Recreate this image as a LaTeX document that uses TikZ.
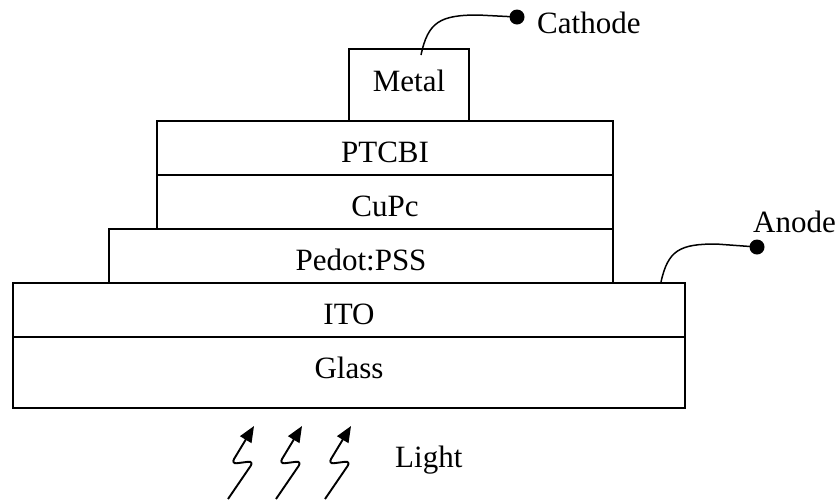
\documentclass[tikz,border=0pt]{standalone}
\usepackage{fontspec}
\setmainfont{Liberation Serif}
\usetikzlibrary{arrows.meta}
\begin{document}
\begin{tikzpicture}[x=1pt,y=-1pt,
  txt/.style={font=\fontsize{31}{36}\selectfont, inner sep=0pt},
  layer/.style={txt, draw, line width=1.8pt, text height=41pt, text depth=13pt},
  wire/.style={line width=1.5pt},
  terminal/.style={circle, fill, inner sep=0pt, minimum size=15pt},
  ray/.style={line width=1.9pt, rounded corners=6pt, -{Triangle[length=16pt,width=13pt]}}
]
\useasboundingbox (0,0) rectangle (840,499);

% layer stack, bottom to top
\node[layer, minimum width=672pt, text depth=30pt] (glass) at (349,372.5) {Glass};
\node[layer, minimum width=672pt] (ito) at (349,310) {ITO};
\node[layer, minimum width=504pt] (pedot) at (361,256) {Pedot:PSS};
\node[layer, minimum width=456pt] (cupc) at (385,202) {CuPc};
\node[layer, minimum width=456pt] (ptcbi) at (385,148) {PTCBI};
\node[layer, minimum width=120pt, text height=42pt, text depth=30pt] (metal) at (409,85) {Metal};

% cathode contact
\coordinate (cwire) at (421,55);
\node[terminal] (cdot) at (517,17) {};
\draw[wire] (cwire) .. controls (428,22) and (440,15) .. (478,15) -- (cdot.center);
\node[txt, anchor=base west] (cathode) at (537,33) {Cathode};

% anode contact
\coordinate (awire) at (661,282);
\node[terminal] (adot) at (757,247) {};
\draw[wire] (awire) .. controls (668,250) and (680,244) .. (716,244) -- (adot.center);
\node[txt, anchor=base west] (anode) at (753,232) {Anode};

% incoming light
\foreach \d [count=\i] in {0,48,97} {
  \coordinate (r\i a) at (228+\d,499);
  \coordinate (r\i b) at (254+\d,461);
  \coordinate (r\i c) at (231+\d,464);
  \coordinate (r\i d) at (254+\d,426);
  \draw[ray] (r\i a) -- (r\i b) -- (r\i c) -- (r\i d);
}
\node[txt, anchor=base west] (light) at (395,467) {Light};
\end{tikzpicture}
\end{document}
